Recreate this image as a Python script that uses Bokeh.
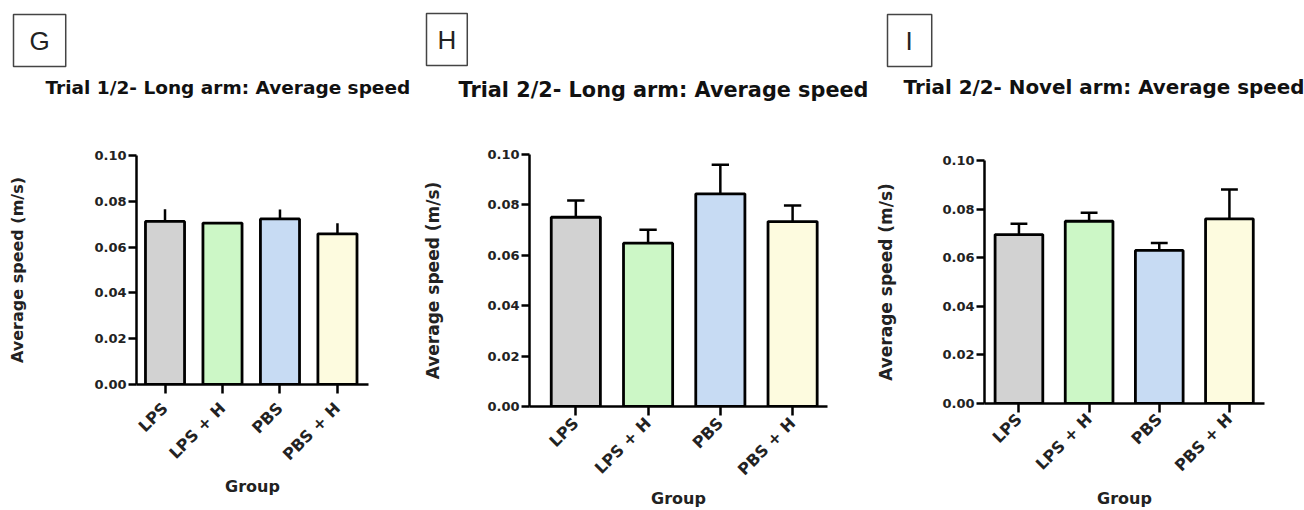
import math
from bokeh.plotting import figure
from bokeh.layouts import row, column
from bokeh.models import Range1d, FixedTicker, PrintfTickFormatter, Title
from bokeh.embed import file_html
from bokeh.resources import INLINE

groups = ["LPS", "LPS + H", "PBS", "PBS + H"]
colors = ["#d2d2d2", "#ccf7c6", "#c7dbf3", "#fdfbdf"]
y_ticks = [0.0, 0.02, 0.04, 0.06, 0.08, 0.10]

g_mean = [0.0712, 0.0705, 0.0723, 0.0658]
g_sem = [0.0053, 0.0, 0.0041, 0.0046]
h_mean = [0.0751, 0.0648, 0.0844, 0.0734]
h_sem = [0.0066, 0.0053, 0.0115, 0.0064]
i_mean = [0.0695, 0.0750, 0.0630, 0.0760]
i_sem = [0.0045, 0.0035, 0.0030, 0.0121]

FONT = "DejaVu Sans"


def panel(letter, title, means, sems, width, left, right, top, bottom,
          xstart, xend, caps, letter_off, title_off, title_size,
          ylabel_size, ylab_standoff, tick_standoff, xlab_standoff, pad,
          title_standoff, spacer_standoff):
    p = figure(width=width, height=510, output_backend="svg", toolbar_location=None,
               x_range=Range1d(xstart, xend), y_range=Range1d(0, 0.10),
               min_border_left=left, min_border_right=right,
               min_border_top=top, min_border_bottom=bottom)
    p.outline_line_color = None
    p.xgrid.visible = False
    p.ygrid.visible = False
    xs = list(range(1, len(groups) + 1))
    tops = [m + s for m, s in zip(means, sems)]
    p.segment(x0=xs, y0=means, x1=xs, y1=tops, line_color="black", line_width=2.5)
    if caps:
        p.segment(x0=[x - 0.12 for x in xs], y0=tops, x1=[x + 0.12 for x in xs], y1=tops,
                  line_color="black", line_width=2.5)
    p.vbar(x=xs, top=means, bottom=0, width=0.68, fill_color=colors,
           line_color="black", line_width=2.8)

    ax = p.yaxis[0]
    ax.ticker = FixedTicker(ticks=y_ticks)
    ax.formatter = PrintfTickFormatter(format="%.2f")
    ax.minor_tick_line_color = None
    ax.major_tick_out = 8
    ax.major_tick_in = 0
    ax.axis_line_width = 2.5
    ax.major_tick_line_width = 2.5
    ax.major_label_text_font = FONT
    ax.major_label_text_font_style = "bold"
    ax.major_label_text_font_size = "13px"
    ax.major_label_text_color = "#222222"
    ax.major_label_standoff = 2
    ax.axis_label = "Average speed (m/s)"
    ax.axis_label_text_font = FONT
    ax.axis_label_text_font_style = "bold"
    ax.axis_label_text_font_size = ylabel_size
    ax.axis_label_text_color = "#222222"
    ax.axis_label_standoff = ylab_standoff

    bx = p.xaxis[0]
    bx.ticker = FixedTicker(ticks=xs)
    bx.major_label_overrides = {x: g for x, g in zip(xs, groups)}
    bx.minor_tick_line_color = None
    bx.major_tick_out = 9
    bx.major_tick_in = 0
    bx.axis_line_width = 2.5
    bx.major_tick_line_width = 2.5
    bx.major_label_orientation = math.pi / 4
    bx.major_label_text_font = FONT
    bx.major_label_text_font_style = "bold"
    bx.major_label_text_font_size = "16px"
    bx.major_label_text_color = "#222222"
    bx.major_label_standoff = tick_standoff
    bx.axis_label = "Group"
    bx.axis_label_text_font = FONT
    bx.axis_label_text_font_style = "bold"
    bx.axis_label_text_font_size = "16px"
    bx.axis_label_text_color = "#222222"
    bx.axis_label_standoff = xlab_standoff

    # invisible spacing element between the frame and the panel title
    p.add_layout(Title(text=" ", standoff=spacer_standoff, text_font_size="10px"), "above")
    p.add_layout(Title(text=title, align="left", offset=title_off, standoff=title_standoff,
                       text_font=FONT, text_font_style="bold", text_font_size=title_size,
                       text_color="#111111"), "above")
    p.add_layout(Title(text=letter, align="left", offset=letter_off,
                       text_font="Liberation Sans", text_font_style="normal",
                       text_font_size="26px", text_color="#222222",
                       border_line_color="#444444", border_line_width=1.5,
                       padding=pad), "above")
    return p


pg = panel("G", "Trial 1/2- Long arm: Average speed", g_mean, g_sem,
           420, 136, 52, 155, 126, 0.504, 4.54, False,
           -123, -91, "18.5px", "16px", 64, 12, 3, (16, 16, 11, 11), 6, 42)
ph = panel("H", "Trial 2/2- Long arm: Average speed", h_mean, h_sem,
           452, 108, 45, 154, 104, 0.359, 4.483, True,
           -103, -71, "20.8px", "17px", 41, 5, 0, (11, 11, 11, 11), 10, 35)
pi_ = panel("I", "Trial 2/2- Novel arm: Average speed", i_mean, i_sem,
            432, 112, 40, 160, 107, 0.509, 4.5, True,
            -97, -81, "19.9px", "17px", 43, 4, 4, (18, 19, 11, 11), 5, 46)

layout = row(column(pg), column(ph), column(pi_))
open("out.html", "w").write(file_html(layout, INLINE))
